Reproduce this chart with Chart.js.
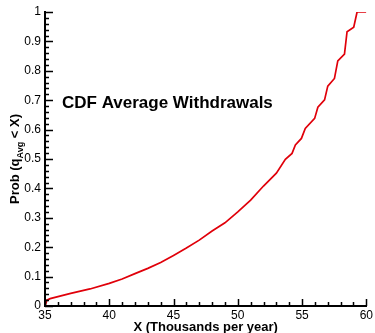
<!DOCTYPE html>
<html lang="en">
<head>
    <meta charset="UTF-8">
    <title>CDF Average Withdrawals</title>
    <script src="https://cdn.jsdelivr.net/npm/chart.js"></script>
    <style>
        body { margin: 0; background: #fff; }
        #wrap { width: 375px; height: 333px; }
    </style>
</head>
<body>
    <div id="wrap"><canvas id="cdfChart"></canvas></div>
    <script>
        // CDF of average withdrawals, X in thousands per year
        const withdrawalX = [35, 35.15, 35.4, 37, 38.5, 40, 41, 42, 43, 44, 45, 46, 47, 48, 49, 50, 51, 52, 53,
            53.7, 54.22, 54.48, 54.95, 55.25, 55.98, 56.23, 56.75, 57.0, 57.52, 57.78, 58.3, 58.5, 59.02, 59.28, 60];
        const cdfProb = [0, 0.02, 0.025, 0.043, 0.058, 0.077, 0.092, 0.11, 0.128, 0.148, 0.172, 0.197, 0.224, 0.255, 0.283, 0.32, 0.36, 0.408, 0.452,
            0.499, 0.519, 0.548, 0.57, 0.604, 0.638, 0.676, 0.701, 0.748, 0.774, 0.834, 0.857, 0.933, 0.948, 1.0, 1.0];
        const xTickLabels = ['35', '40', '45', '50', '55', '60'];
        const yTickLabels = ['0', '0.1', '0.2', '0.3', '0.4', '0.5', '0.6', '0.7', '0.8', '0.9', '1'];

        const FONT = '"Liberation Sans", Arial, Helvetica, sans-serif';

        // inward major/minor ticks plus the titles
        const decorPlugin = {
            id: 'decor',
            afterDraw(chart) {
                const ctx = chart.ctx;
                const xs = chart.scales.x, ys = chart.scales.y;
                const area = chart.chartArea;
                ctx.save();
                ctx.strokeStyle = '#000';
                ctx.lineWidth = 1.5;
                ctx.beginPath();
                for (let i = 0; i <= 50; i++) {
                    const py = Math.round(ys.getPixelForValue(i * 0.02)) + 0.5;
                    const len = i % 5 === 0 ? 8 : 4;
                    ctx.moveTo(area.left, py);
                    ctx.lineTo(area.left + len, py);
                }
                for (let v = 35; v <= 60; v++) {
                    const px = Math.round(xs.getPixelForValue(v)) + 0.5;
                    const len = v % 5 === 0 ? 7 : 4;
                    ctx.moveTo(px, area.bottom);
                    ctx.lineTo(px, area.bottom - len);
                }
                ctx.stroke();

                ctx.fillStyle = '#000';
                // chart title inside the plot
                ctx.font = 'bold 17px ' + FONT;
                ctx.textAlign = 'left';
                ctx.textBaseline = 'alphabetic';
                ctx.fillText('CDF Average Withdrawals', 62, 108);

                // x axis title
                ctx.font = 'bold 13px ' + FONT;
                ctx.textAlign = 'center';
                ctx.fillText('X (Thousands per year)', (area.left + area.right) / 2, 331);

                // y axis title with subscript
                const main = 'bold 13px ' + FONT, sub = 'bold 9px ' + FONT;
                const parts = [['Prob (q', main, 0], ['Avg', sub, 4], [' < X)', main, 0]];
                let total = 0;
                parts.forEach(p => { ctx.font = p[1]; total += ctx.measureText(p[0]).width; });
                ctx.translate(19, (area.top + area.bottom) / 2);
                ctx.rotate(-Math.PI / 2);
                ctx.textAlign = 'left';
                let cx = -total / 2;
                parts.forEach(p => {
                    ctx.font = p[1];
                    ctx.fillText(p[0], cx, p[2]);
                    cx += ctx.measureText(p[0]).width;
                });
                ctx.restore();
            }
        };

        const ctx = document.getElementById('cdfChart').getContext('2d');
        new Chart(ctx, {
            type: 'line',
            data: {
                datasets: [{
                    data: withdrawalX.map((x, i) => ({ x: x, y: cdfProb[i] })),
                    borderColor: '#e0000a',
                    borderWidth: 1.7,
                    pointRadius: 0,
                    tension: 0,
                    fill: false
                }]
            },
            options: {
                responsive: true,
                maintainAspectRatio: false,
                animation: false,
                layout: { padding: { top: 12, right: 7, left: 0, bottom: 0 } },
                plugins: { legend: { display: false }, tooltip: { enabled: false } },
                scales: {
                    x: {
                        type: 'linear',
                        min: 35,
                        max: 60,
                        grid: { display: false, drawTicks: false },
                        border: { display: true, color: '#000', width: 2 },
                        afterFit: s => { s.height = 27; },
                        ticks: {
                            stepSize: 5,
                            padding: 2,
                            color: '#000',
                            font: { family: FONT, size: 12 },
                            maxRotation: 0,
                            callback: (v) => xTickLabels[(v - 35) / 5]
                        }
                    },
                    y: {
                        min: 0,
                        max: 1,
                        grid: { display: false, drawTicks: false },
                        border: { display: true, color: '#000', width: 2 },
                        afterFit: s => { s.width = 45; },
                        ticks: {
                            stepSize: 0.1,
                            padding: 4,
                            color: '#000',
                            font: { family: FONT, size: 12 },
                            callback: (v) => yTickLabels[Math.round(v * 10)]
                        }
                    }
                }
            },
            plugins: [decorPlugin]
        });
    </script>
</body>
</html>
